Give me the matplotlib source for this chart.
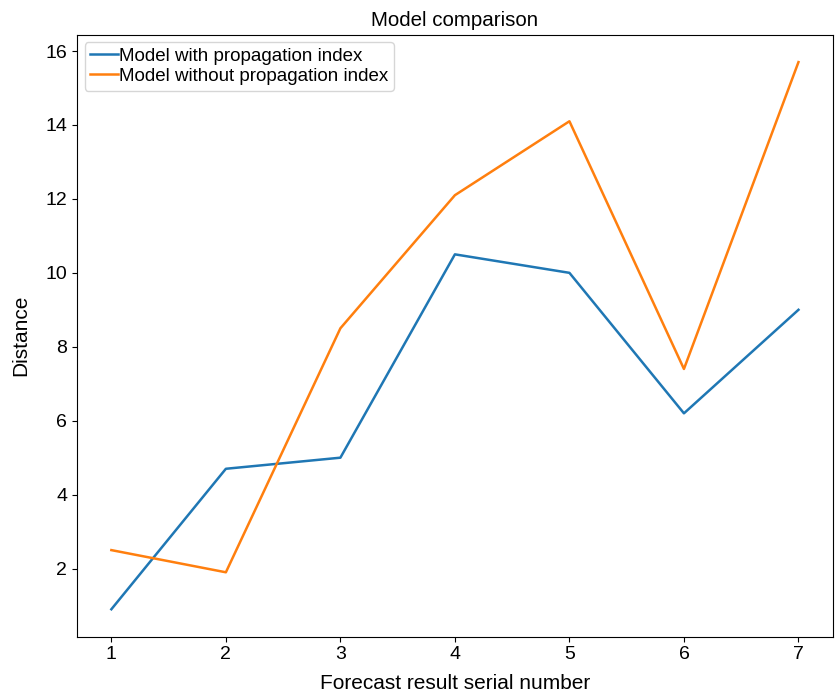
import matplotlib
matplotlib.use("Agg")
import matplotlib.pyplot as plt

plt.rcParams["font.family"] = ["Liberation Sans", "DejaVu Sans"]

serial = [1, 2, 3, 4, 5, 6, 7]
with_index = [0.9, 4.7, 5.0, 10.5, 10.0, 6.2, 9.0]
without_index = [2.5, 1.9, 8.5, 12.1, 14.1, 7.4, 15.7]

fig = plt.figure(figsize=(8.37, 6.95), dpi=100)
ax = fig.add_axes([0.092, 0.084, 0.903, 0.866])

ax.plot(serial, with_index, color="#1f77b4", lw=1.8, label="Model with propagation index")
ax.plot(serial, without_index, color="#ff7f0e", lw=1.8, label="Model without propagation index")

ax.set_title("Model comparison", fontsize=14.8)
ax.set_xlabel("Forecast result serial number", fontsize=15, labelpad=8)
ax.set_ylabel("Distance", fontsize=15, labelpad=11)
ax.tick_params(labelsize=14)
ax.legend(loc="upper left", fontsize=13.5, handlelength=1.5, handletextpad=0.05,
          borderaxespad=0.4, borderpad=0.3, labelspacing=0.15)

fig.savefig("out.png", dpi=100)
